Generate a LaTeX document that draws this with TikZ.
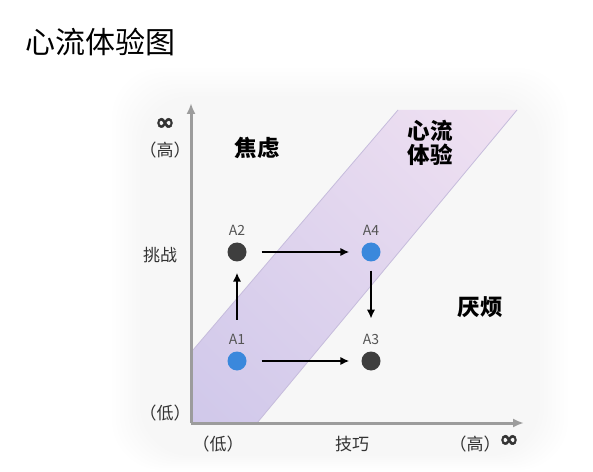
\documentclass[tikz,border=0pt]{standalone}
\usepackage{fontspec}
\setmainfont{Noto Sans CJK SC}
\newfontfamily\djvb{DejaVu Sans Bold}[FakeBold=2]
\usetikzlibrary{arrows.meta,shadings}
\definecolor{axisgray}{HTML}{9C9C9C}
\definecolor{bandA}{HTML}{D0C8EA}
\definecolor{bandB}{HTML}{F1E2F2}
\definecolor{bandedge}{HTML}{C6BCDC}
\definecolor{dotdark}{HTML}{3E3E3E}
\definecolor{dotblue}{HTML}{3A88DC}
\definecolor{lblgray}{HTML}{555555}
\definecolor{txtgray}{HTML}{333333}
\begin{document}
\begin{tikzpicture}[x=1bp,y=-1bp,
  axis/.style={draw=axisgray, line width=3bp, -{Latex[length=11bp,width=9bp]}},
  arr/.style={draw=black, line width=2.5bp, -{Latex[length=9bp,width=8.5bp]}},
  dotd/.style={circle, fill=dotdark, minimum size=19bp, inner sep=0pt},
  dotb/.style={circle, fill=dotblue, minimum size=19bp, inner sep=0pt},
  plbl/.style={inner sep=0pt, text=lblgray, font=\fontsize{14bp}{14bp}\selectfont},
  zone/.style={inner sep=0pt, text=black, align=center, font=\fontsize{22.5bp}{24bp}\selectfont\bfseries},
  tick/.style={inner sep=0pt, text=txtgray, font=\fontsize{17bp}{17bp}\selectfont},
  inf/.style={inner sep=0pt, text=txtgray, font=\fontsize{23bp}{23bp}\djvb}
]
\useasboundingbox (0,0) rectangle (593,472);
\fill[white] (0,0) rectangle (593,472);
% faint soft background glow
\foreach \k in {0,...,7}{
  \fill[black, opacity=0.004, rounded corners=50bp]
    ({112+4*\k},{68+4*\k}) rectangle ({568-4*\k},{470-2*\k});
}
% title
\node[anchor=west, inner sep=0pt, font=\fontsize{30bp}{30bp}\selectfont] (title) at (25,42) {心流体验图};
% band
\shade[lower left=bandA, lower right=bandA!55!bandB, upper left=bandA!55!bandB, upper right=bandB]
  (191,423) -- (257,423) -- (517,110) -- (398,110) -- (193,350) -- cycle;
\draw[bandedge, line width=0.8bp] (257,423) -- (517,110);
\draw[bandedge, line width=0.8bp] (193,350) -- (398,110);
% axes
\coordinate (o) at (191,423);
\coordinate (ytop) at (191,103);
\coordinate (xend) at (524,423);
\draw[axis] (o) -- (ytop);
\draw[axis] (o) -- (xend);
% zone labels
\node[zone] (anx) at (257,148) {焦虑};
\node[zone] (flow) at (430,143) {心流\\体验};
\node[zone] (bore) at (480,307) {厌烦};
% axis labels
\node[inf] (yinf) at (165,124) {∞};
\node[tick] (yhi) at (165,150) {（高）};
\node[tick] (ylab) at (160,255) {挑战};
\node[tick] (ylo) at (165,413) {（低）};
\node[tick] (xlo) at (218,444) {（低）};
\node[tick] (xlab) at (352,444) {技巧};
\node[tick] (xhi) at (475,444) {（高）};
\node[inf] (xinf) at (509,441) {∞};
% points
\node[dotd] (a2) at (237,252) {};
\node[dotb] (a4) at (371,252) {};
\node[dotb] (a1) at (237,361) {};
\node[dotd] (a3) at (371,361) {};
\node[plbl] (l2) at (237,230) {A2};
\node[plbl] (l4) at (371,230) {A4};
\node[plbl] (l1) at (237,339) {A1};
\node[plbl] (l3) at (371,339) {A3};
% arrows
\draw[arr, shorten <=15bp, shorten >=12bp] (a2) -- (a4);
\draw[arr, shorten <=15bp, shorten >=12bp] (a1) -- (a3);
\draw[arr, shorten <=14bp, shorten >=11bp] (l1) -- (a2);
\draw[arr, shorten <=9bp, shorten >=15bp] (a4) -- (l3);
\end{tikzpicture}
\end{document}
